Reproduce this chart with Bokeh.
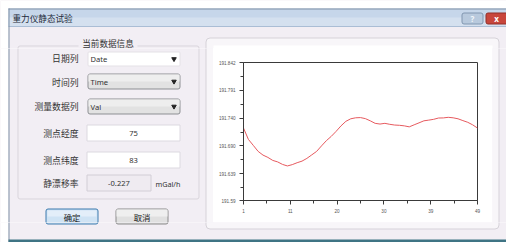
from bokeh.plotting import figure
from bokeh.models import Range1d, FixedTicker
from bokeh.layouts import column, row
from bokeh.embed import file_html
from bokeh.resources import INLINE
from bokeh.core.properties import value

# ---------------- data ----------------
sample_no = list(range(1, 50))
gravity = [191.7223, 191.7016, 191.6907, 191.6797, 191.6729, 191.6687, 191.6632,
           191.6605, 191.6559, 191.6531, 191.6555, 191.6590, 191.6619, 191.6669,
           191.6733, 191.6797, 191.6897, 191.6993, 191.7071, 191.7163, 191.7263,
           191.7346, 191.7392, 191.7410, 191.7414, 191.7395, 191.7355, 191.7309,
           191.7296, 191.7309, 191.7291, 191.7278, 191.7273, 191.7263, 191.7245,
           191.7282, 191.7318, 191.7355, 191.7368, 191.7382, 191.7406, 191.7408,
           191.7419, 191.7410, 191.7392, 191.7359, 191.7328, 191.7282, 191.7223]
y_ticks = [191.59, 191.639, 191.690, 191.740, 191.791, 191.842]
y_tick_labels = ["191.59", "191.639", "191.690", "191.740", "191.791", "191.842"]
x_ticks = [1, 10.6, 20.2, 29.8, 39.4, 49]
x_tick_labels = ["1", "11", "20", "30", "39", "49"]
x_minor_ticks = [5.8, 15.4, 25, 34.6, 44.2]

# dialog texts
dialog_title = "重力仪静态试验"
group_title = "当前数据信息"
field_labels = ["日期列", "时间列", "测量数据列", "测点经度", "测点纬度", "静漂移率"]
combo_values = ["Date", "Time", "Val"]
longitude = "75"
latitude = "83"
drift_rate = "-0.227"
drift_unit = "mGal/h"
ok_text = "确定"
cancel_text = "取消"

# ---------------- styles ----------------
BG = "#f2eef4"
CJK = value("Noto Sans CJK SC")
LAT = value("Noto Sans")


def box(p, l, r, t, b, fill, line=None, radius=0):
    if line is not None:
        l, r, t, b = l + 0.5, r - 0.5, t + 0.5, b - 0.5
    p.quad(left=[l], right=[r], top=[t], bottom=[b], fill_color=fill,
           line_color=line, line_width=1, border_radius=radius)


def draw_chrome(p, bounds):
    x0, x1, y0, y1 = bounds

    def txt(x, y, s, size, color="#2a2a2a", align="left", font=CJK, style="normal"):
        # every text is drawn only in the one panel that holds it
        if not (x0 <= x < x1 and y0 <= y < y1):
            return
        p.text(x=[x], y=[y], text=[s], text_font=font, text_font_size=value(size),
               text_color=color, text_align=align, text_baseline="middle",
               text_font_style=style)

    # page + dialog body
    box(p, 0, 506, 0, 242, "#ffffff")
    box(p, 8, 506, 8, 242, BG)
    # title bar
    box(p, 8, 506, 8, 26, "#c6d6ea")
    box(p, 8, 506, 17, 26, "#d4e0ef")
    box(p, 8, 506, 8, 9, "#7f90a6")
    box(p, 8, 506, 25.5, 26.5, "#aabdd5")
    box(p, 8, 9, 8, 242, "#7f90a6")
    txt(12, 17.5, dialog_title, "8.6px", color="#1d2a3a")
    # title buttons
    box(p, 461, 483, 12, 24, "#b8c9dd", line="#8196b0", radius=2)
    txt(472, 18, "?", "8px", color="#f2f6fa", align="center", font=LAT, style="bold")
    box(p, 485, 514, 12, 24, "#c8463c", line="#922f29", radius=2)
    txt(496, 18, "x", "8px", color="#ffffff", align="center", font=LAT, style="bold")
    # bottom frame line
    box(p, 8, 506, 239, 242, "#3f7484")

    # group box
    box(p, 17, 199, 45, 199, None, line="#d9d5dc", radius=2)
    box(p, 78, 137, 38, 48, BG)
    txt(107.5, 42.5, group_title, "8.6px", align="center", color="#333333")

    label_y = [58, 81.5, 105.5, 132.5, 159.5, 183]
    for lab, ly in zip(field_labels, label_y):
        txt(78, ly, lab, "8.8px", align="right", color="#333333")

    # combo boxes
    box(p, 87, 180, 51, 66, "#ffffff", line="#e4e1e6", radius=1)
    txt(90, 58.5, combo_values[0], "7.6px", font=LAT, color="#333333")
    p.scatter(x=[173.5], y=[58.5], marker="inverted_triangle", size=4.5,
              color="#222222")
    for val, (t, b) in zip(combo_values[1:], [(73, 89), (98, 114)]):
        box(p, 87, 180, t, b, "#e2e2e2", line="#8d8f93", radius=2)
        box(p, 88, 179, t + 1, (t + b) / 2, "#eeeeee")
        txt(90, (t + b) / 2, val, "7.6px", font=LAT, color="#333333")
        p.scatter(x=[173.5], y=[(t + b) / 2], marker="inverted_triangle",
                  size=4.5, color="#222222")

    # text boxes
    box(p, 86, 180, 124, 141, "#ffffff", line="#dcd9e0")
    txt(133, 132.5, longitude, "7.6px", font=LAT, align="center", color="#333333")
    box(p, 86, 180, 151, 168, "#ffffff", line="#dcd9e0")
    txt(133, 159.5, latitude, "7.6px", font=LAT, align="center", color="#333333")
    box(p, 86, 151, 174, 191, "#efebf1", line="#d2ced6")
    txt(118.5, 183, drift_rate, "7.6px", font=LAT, align="center", color="#333333")
    txt(155, 183, drift_unit, "7.2px", font=LAT, color="#333333")

    # buttons
    box(p, 45, 98, 208, 224, "#cfe3f4", line="#3c7bae", radius=2)
    box(p, 47, 96, 210, 216, "#e3eef9")
    txt(71.5, 216, ok_text, "8.4px", align="center", color="#222222")
    box(p, 115, 168, 208, 224, "#e0e0e0", line="#8a8a8a", radius=2)
    box(p, 116, 167, 209, 216, "#efefef")
    txt(141.5, 216, cancel_text, "8.4px", align="center", color="#222222")

    # chart panel
    box(p, 205, 499, 37, 229, "#f8f6f9", line="#d6d2d9", radius=4)
    box(p, 213, 492, 45, 222, "#ffffff")


def chrome_fig(x0, x1, y0, y1):
    p = figure(width=x1 - x0, height=y1 - y0, x_range=Range1d(x0, x1),
               y_range=Range1d(y1, y0), x_axis_type=None, y_axis_type=None,
               toolbar_location=None, output_backend="svg", min_border=0,
               outline_line_color=None, background_fill_color=BG,
               border_fill_color=BG)
    draw_chrome(p, (x0, x1, y0, y1))
    return p


# ---------------- chart ----------------
AX = "#3a3a3a"
c = figure(width=279, height=174, x_range=Range1d(x_ticks[0], x_ticks[-1]),
           y_range=Range1d(y_ticks[0], y_ticks[-1]), toolbar_location=None,
           output_backend="svg", min_border_left=30, min_border_right=15,
           min_border_top=14, min_border_bottom=22,
           background_fill_color="white", border_fill_color="white",
           outline_line_color=AX, outline_line_width=1)
c.grid.visible = False
c.line(sample_no, gravity, line_color="#e65a5f", line_width=1)

y_minor = [(a + b) / 2 for a, b in zip(y_ticks[:-1], y_ticks[1:])]
c.xaxis.ticker = FixedTicker(ticks=x_ticks, minor_ticks=x_minor_ticks)
c.yaxis.ticker = FixedTicker(ticks=y_ticks, minor_ticks=y_minor)
c.xaxis.major_label_overrides = dict(zip(x_ticks, x_tick_labels))
c.yaxis.major_label_overrides = dict(zip(y_ticks, y_tick_labels))
for ax in c.axis:
    ax.axis_line_color = AX
    ax.major_tick_line_color = AX
    ax.minor_tick_line_color = AX
    ax.major_tick_in = 0
    ax.major_tick_out = 4
    ax.minor_tick_in = 0
    ax.minor_tick_out = 3
    ax.major_label_text_font = "Liberation Sans"
    ax.major_label_text_font_size = "4.6px"
    ax.major_label_text_color = "#555555"
    ax.major_label_standoff = 4

# ---------------- layout (page pixels, top-left = 0,0) ----------------
top_fig = chrome_fig(0, 506, 0, 48)
left_fig = chrome_fig(0, 213, 48, 222)
right_fig = chrome_fig(492, 506, 48, 222)
bottom_fig = chrome_fig(0, 506, 222, 242)

# the chart is wrapped in its own column so that its frame is not
# aligned with the frames of the neighbouring dialog panels
layout = column(
    top_fig,
    row(left_fig, column(c, spacing=0), right_fig, spacing=0),
    bottom_fig,
    spacing=0,
)

open("out.html", "w").write(file_html(layout, INLINE))
